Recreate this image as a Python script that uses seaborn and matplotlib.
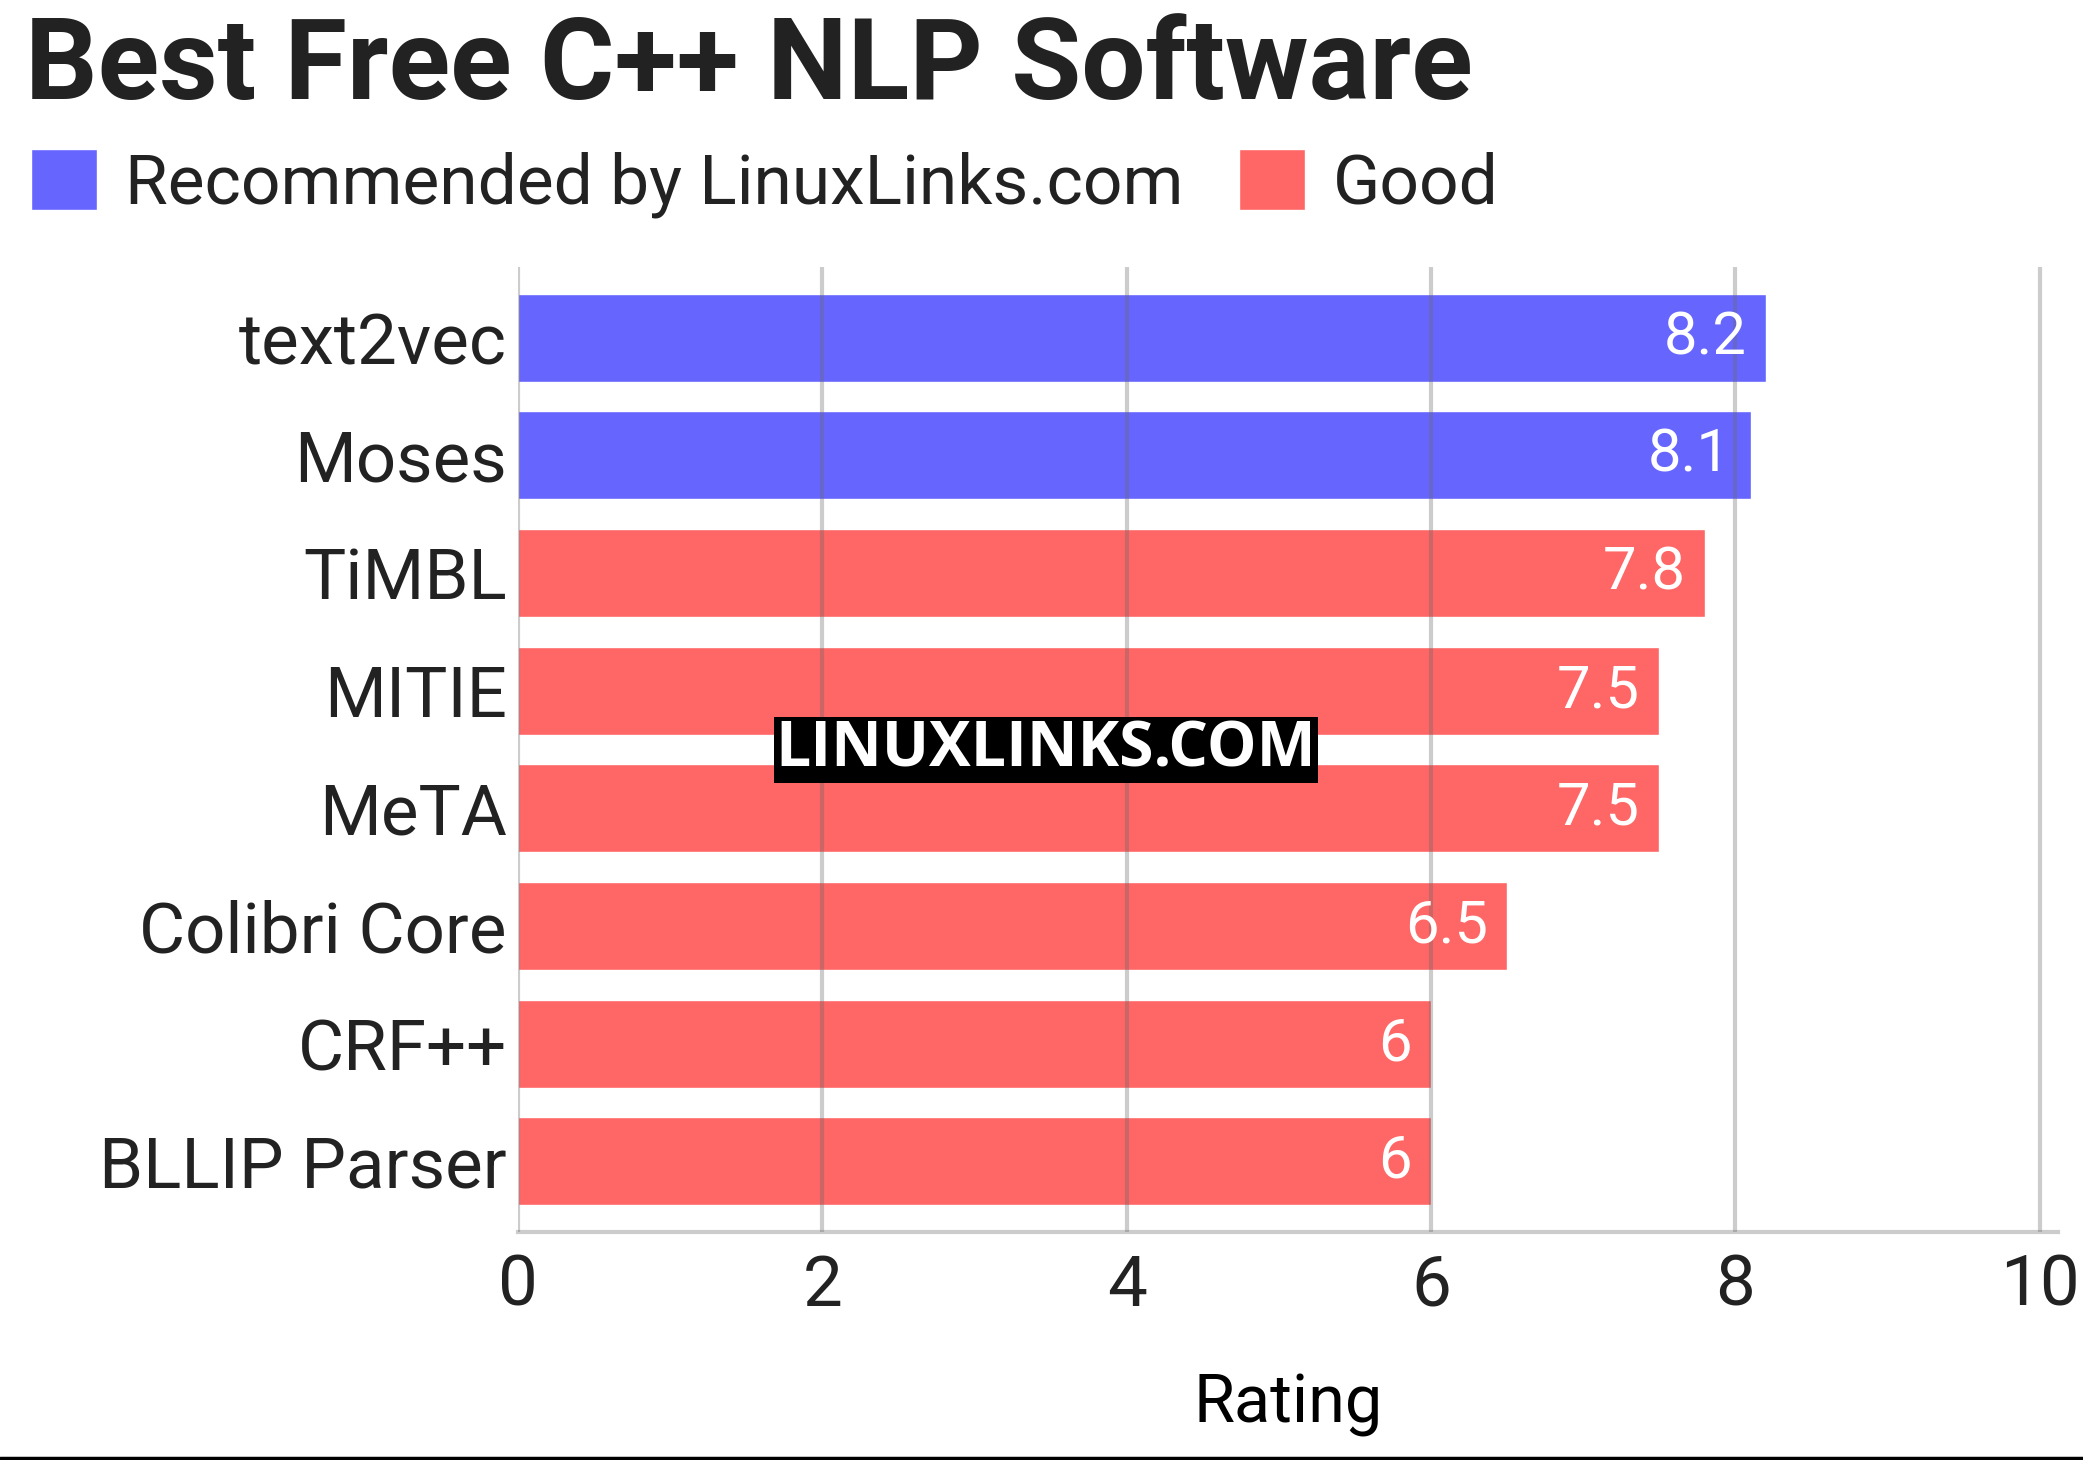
import numpy as np
import pandas as pd
import matplotlib
matplotlib.use("Agg")
import matplotlib.pyplot as plt
import seaborn as sns

# --- data ---
software = ["text2vec", "Moses", "TiMBL", "MITIE", "MeTA",
            "Colibri Core", "CRF++", "BLLIP Parser"]
ratings = [8.2, 8.1, 7.8, 7.5, 7.5, 6.5, 6, 6]
groups = ["Recommended by LinuxLinks.com", "Recommended by LinuxLinks.com",
          "Good", "Good", "Good", "Good", "Good", "Good"]
x_ticks = [0, 2, 4, 6, 8, 10]

BLUE = "#6666ff"
RED = "#ff6666"
TXT = "#222222"

df = pd.DataFrame({"name": software, "rating": ratings, "group": groups})

sns.set_style("white")
plt.rcParams["font.family"] = ["Roboto", "DejaVu Sans"]

fig = plt.figure(figsize=(20.83, 14.60), dpi=100)
ax = fig.add_axes([0.2487, 0.1562, 0.988 - 0.2487, 0.8171 - 0.1562])

sns.barplot(data=df, x="rating", y="name", hue="group", orient="h",
            palette={"Recommended by LinuxLinks.com": BLUE, "Good": RED},
            dodge=False, width=0.75, saturation=1, ax=ax)

ax.set_xlim(0, 10.12)
ax.set_ylim(7.6, -0.6)
ax.set_xticks(x_ticks)
ax.set_xticklabels([str(t) for t in x_ticks])

# value labels inside the bar ends
for i, v in enumerate(ratings):
    ax.annotate(f"{v:g}", xy=(v, i), xytext=(-14, 0), textcoords="offset points",
                ha="right", va="center", color="white", fontsize=43)

# grid drawn over the bars, faint
ax.set_axisbelow(False)
ax.grid(axis="x", color="#666666", alpha=0.33, linewidth=3.0)
ax.grid(axis="y", visible=False)
for s in ["top", "right", "left"]:
    ax.spines[s].set_visible(False)
ax.spines["bottom"].set_color("#cccccc")
ax.spines["bottom"].set_linewidth(3)

ax.tick_params(axis="y", length=0, pad=8, labelsize=51, labelcolor=TXT)
ax.tick_params(axis="x", length=0, pad=15, labelsize=51, labelcolor=TXT)
ax.set_ylabel("")
ax.set_xlabel("Rating", fontsize=48, color="black", labelpad=38)

# legend at the top
sns.move_legend(ax, loc="upper left", bbox_to_anchor=(0.015, 0.898),
                bbox_transform=fig.transFigure, ncol=2, frameon=False,
                title=None, fontsize=50, handlelength=0.95, handleheight=0.97,
                handletextpad=0.4, columnspacing=0.8, borderpad=0,
                borderaxespad=0)
for t in ax.get_legend().get_texts():
    t.set_color(TXT)

fig.text(0.012, 1 - 99 / 1460, "Best Free C++ NLP Software", fontsize=82,
         fontweight="bold", color=TXT, va="baseline", ha="left")

# watermark
fig.text(1046 / 2083, 1 - 750 / 1460, "LINUXLINKS.COM", fontsize=45,
         fontweight="bold", color="white", ha="center", va="center",
         family=["Open Sans", "DejaVu Sans"],
         bbox=dict(facecolor="black", edgecolor="none", pad=1.5))

# bottom rule
fig.add_artist(plt.Line2D([0, 1], [0.0015, 0.0015], color="black", linewidth=2.5,
                          transform=fig.transFigure))

fig.savefig("out.png", dpi=100)
